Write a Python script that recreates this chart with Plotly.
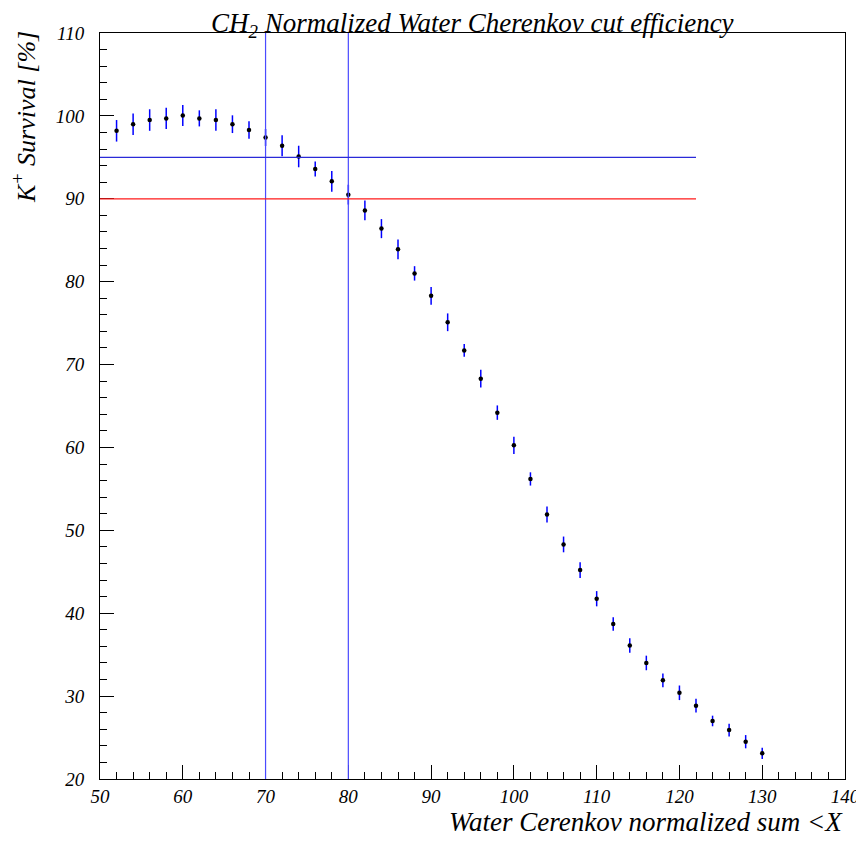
import plotly.graph_objects as go

x_vals = list(range(52, 131, 2))
survival = [98.2, 99.0, 99.5, 99.7, 100.05, 99.7, 99.5, 99.0, 98.3, 97.4,
            96.4, 95.1, 93.6, 92.1, 90.5, 88.6, 86.4, 83.9, 81.0, 78.3,
            75.1, 71.7, 68.3, 64.2, 60.25, 56.2, 51.9, 48.3, 45.2, 41.75,
            38.7, 36.1, 34.0, 31.9, 30.4, 28.85, 27.0, 25.9, 24.5, 23.1]
errors = [1.3, 1.3, 1.3, 1.27, 1.27, 0.97, 1.3, 1.07, 1.05, 1.03,
          1.27, 1.3, 0.9, 1.25, 1.2, 1.2, 1.15, 1.2, 0.87, 1.07,
          1.07, 0.77, 1.07, 0.87, 1.03, 0.8, 0.97, 0.95, 0.95, 0.92,
          0.82, 0.88, 0.88, 0.84, 0.88, 0.84, 0.64, 0.78, 0.8, 0.68]

vcuts = [70, 80]
hcut_blue = 95
hcut_red = 90
hline_range = [50, 122]
x_range = [50, 140]
y_range = [20, 110]

FONT = "Liberation Serif"

fig = go.Figure()
fig.add_trace(go.Scatter(
    x=x_vals, y=survival, mode="markers",
    marker=dict(color="black", size=4.5),
    error_y=dict(type="data", array=errors, color="blue", thickness=1.5, width=0),
    showlegend=False,
))

for xc in vcuts:
    fig.add_shape(type="line", x0=xc, x1=xc, y0=y_range[0], y1=y_range[1],
                  xref="x", yref="y", line=dict(color="#4a4aff", width=1.2))
fig.add_shape(type="line", x0=hline_range[0], x1=hline_range[1], y0=hcut_blue, y1=hcut_blue,
              xref="x", yref="y", line=dict(color="#2a2ad8", width=1.2))
fig.add_shape(type="line", x0=hline_range[0], x1=hline_range[1], y0=hcut_red, y1=hcut_red,
              xref="x", yref="y", line=dict(color="#ff1a1a", width=1.2))

tickfont = dict(family=FONT, size=19, color="black", style="italic")

axis_common = dict(ticks="inside", ticklen=14, tickwidth=1, tickcolor="black",
                   showline=True, linecolor="black", linewidth=1, mirror=True,
                   showgrid=False, zeroline=False, tickfont=tickfont, automargin=False)

# Page body has an 8px default margin, so the figure is 8px smaller
fig.update_layout(
    width=856, height=833,
    margin=dict(l=92, r=19, t=25, b=62),
    plot_bgcolor="white", paper_bgcolor="white",
    xaxis=dict(range=x_range, dtick=10, tick0=50, ticklabelstandoff=0, **axis_common,
               minor=dict(dtick=2, ticks="inside", ticklen=7, tickcolor="black", showgrid=False)),
    yaxis=dict(range=y_range, dtick=10, tick0=20, ticklabelstandoff=11, **axis_common,
               minor=dict(dtick=2, ticks="inside", ticklen=7, tickcolor="black", showgrid=False)),
    annotations=[
        dict(text="CH<sub>2</sub> Normalized Water Cherenkov cut efficiency",
             xref="paper", yref="paper", x=0.5, y=1, xanchor="center", yanchor="bottom",
             yshift=-11, showarrow=False,
             font=dict(family=FONT, size=27, color="black", style="italic")),
        dict(text="K<sup>+</sup> Survival [%]",
             xref="paper", yref="paper", x=0, y=1, xanchor="center", yanchor="top",
             xshift=-76, yshift=4, textangle=-90, showarrow=False,
             font=dict(family=FONT, size=26, color="black", style="italic")),
        dict(text="Water Cerenkov normalized sum &lt;X",
             xref="paper", yref="paper", x=1, y=0, xanchor="right", yanchor="top",
             yshift=-26, showarrow=False,
             font=dict(family=FONT, size=27, color="black", style="italic")),
    ],
)

fig.write_html("out.html")
